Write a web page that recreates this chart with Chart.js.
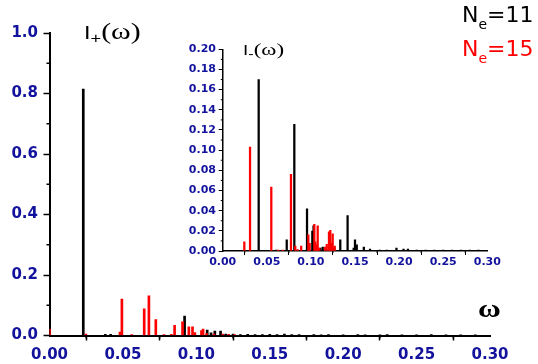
<!DOCTYPE html>
<html>
<head>
<meta charset="utf-8">
<script src="https://cdn.jsdelivr.net/npm/chart.js@4.4.0/dist/chart.umd.min.js"></script>
<style>
body { margin: 0; background: #fff; }
#wrap { position: relative; width: 538px; height: 364px; overflow: hidden; background: #fff; }
canvas { position: absolute; }
#mainChart { left: 0; top: 0; }
#insetChart { left: 170px; top: 30px; }
.lbl { position: absolute; white-space: nowrap; line-height: 1; color: #000; transform-origin: left top; }
.sans { font-family: "Liberation Sans", Arial, sans-serif; }
.serif { font-family: "Liberation Serif", "Times New Roman", serif; }
.dv { font-family: "DejaVu Sans", sans-serif; }
</style>
</head>
<body>
<div id="wrap">
  <canvas id="mainChart" width="538" height="364"></canvas>
  <canvas id="insetChart" width="340" height="245"></canvas>

  <div class="lbl" style="left:84px; top:20px; transform:scaleX(1.3);"><span class="sans" style="font-size:18px">I</span><span class="sans" style="font-size:14px; vertical-align:-4px">+</span><span class="serif" style="font-size:23px">(ω)</span></div>
  <div class="lbl" style="left:243px; top:41px; transform:scaleX(1.35);"><span class="sans" style="font-size:14px">I</span><span class="sans" style="font-size:12px; vertical-align:-3px">-</span><span class="serif" style="font-size:17px">(ω)</span></div>
  <div class="lbl serif" style="left:478px; top:296px; font-size:26px; font-weight:bold; transform:scaleX(1.2);">ω</div>

  <div class="lbl dv" style="left:462px; top:4px; font-size:22px;">N<span style="font-size:14px; vertical-align:-7px">e</span>=11</div>
  <div class="lbl dv" style="left:462px; top:38px; font-size:22px; color:#ff0000;">N<span style="font-size:14px; vertical-align:-7px">e</span>=15</div>
</div>

<script>
// I+(w) spectrum, N_e = 11 (black)
const plusOmega11 = [0.023, 0.038, 0.0416, 0.092, 0.1074, 0.110, 0.1126, 0.1165, 0.120, 0.125, 0.130, 0.135, 0.140, 0.145, 0.150, 0.155, 0.160, 0.165, 0.170, 0.180, 0.185, 0.190, 0.200, 0.210, 0.215, 0.225, 0.230, 0.240, 0.250, 0.260, 0.270, 0.280, 0.290];
const plusI11     = [0.815, 0.004, 0.004, 0.064, 0.018, 0.009, 0.015, 0.015, 0.005, 0.005, 0.003, 0.004, 0.003, 0.003, 0.004, 0.003, 0.005, 0.003, 0.003, 0.003, 0.002, 0.003, 0.002, 0.003, 0.002, 0.002, 0.003, 0.002, 0.002, 0.003, 0.002, 0.002, 0.002];

// I+(w) spectrum, N_e = 15 (red)
const plusOmega15 = [0.0, 0.0248, 0.048, 0.0493, 0.056, 0.0645, 0.0677, 0.0724, 0.078, 0.083, 0.0852, 0.0906, 0.0949, 0.0974, 0.099, 0.1035, 0.1046, 0.107, 0.112, 0.118, 0.122, 0.126];
const plusI15     = [0.021, 0.005, 0.011, 0.120, 0.003, 0.088, 0.131, 0.053, 0.003, 0.004, 0.034, 0.045, 0.029, 0.029, 0.010, 0.016, 0.021, 0.006, 0.005, 0.005, 0.004, 0.003];

// I-(w) spectrum (inset), N_e = 11 (black)
const minusOmega11 = [0.0408, 0.0603, 0.0726, 0.0812, 0.0956, 0.1016, 0.103, 0.1107, 0.1134, 0.1265, 0.1333, 0.1416, 0.1485, 0.150, 0.152, 0.160, 0.167, 0.178, 0.186, 0.197, 0.205, 0.210, 0.220, 0.230, 0.240, 0.250, 0.260, 0.270, 0.280, 0.290];
const minusI11     = [0.170, 0.001, 0.011, 0.1257, 0.0417, 0.0198, 0.025, 0.003, 0.004, 0.003, 0.011, 0.035, 0.003, 0.011, 0.006, 0.004, 0.002, 0.001, 0.001, 0.003, 0.002, 0.002, 0.001, 0.001, 0.001, 0.001, 0.001, 0.001, 0.001, 0.001];

// I-(w) spectrum (inset), N_e = 15 (red)
const minusOmega15 = [0.0245, 0.031, 0.0551, 0.063, 0.068, 0.0774, 0.0823, 0.085, 0.089, 0.0971, 0.0986, 0.1039, 0.105, 0.1066, 0.1077, 0.1095, 0.116, 0.118, 0.1205, 0.122, 0.1236, 0.1247, 0.127];
const minusI15     = [0.0092, 0.103, 0.0635, 0.001, 0.001, 0.076, 0.005, 0.0015, 0.005, 0.016, 0.0076, 0.0265, 0.0092, 0.006, 0.025, 0.003, 0.004, 0.0066, 0.019, 0.0205, 0.0076, 0.017, 0.005];

// axis ticks
const mainXTicks  = [0, 0.05, 0.10, 0.15, 0.20, 0.25, 0.30];
const mainXMinor  = [0.025, 0.075, 0.125, 0.175, 0.225, 0.275];
const mainYTicks  = [0, 0.2, 0.4, 0.6, 0.8, 1.0];
const mainYMinor  = [0.1, 0.3, 0.5, 0.7, 0.9];
const insetXTicks = [0, 0.05, 0.10, 0.15, 0.20, 0.25, 0.30];
const insetXMinor = [0.025, 0.075, 0.125, 0.175, 0.225, 0.275];
const insetYTicks = [0, 0.02, 0.04, 0.06, 0.08, 0.10, 0.12, 0.14, 0.16, 0.18, 0.20];
const insetYMinor = [0.01, 0.03, 0.05, 0.07, 0.09, 0.11, 0.13, 0.15, 0.17, 0.19];

const tickBlue = "#12129c";

function pts(xs, ys) {
  return xs.map((x, i) => ({ x: x, y: ys[i] }));
}

// short minor ticks, drawn on the outer side of both axes
const minorTicks = {
  id: "minorTicks",
  afterDraw(chart, args, opts) {
    const ctx = chart.ctx;
    const xs = chart.scales.x, ys = chart.scales.y;
    ctx.save();
    ctx.strokeStyle = "#000";
    ctx.lineWidth = opts.width;
    opts.x.forEach(v => {
      const px = xs.getPixelForValue(v);
      ctx.beginPath();
      ctx.moveTo(px, ys.bottom);
      ctx.lineTo(px, ys.bottom + opts.len);
      ctx.stroke();
    });
    opts.y.forEach(v => {
      const py = ys.getPixelForValue(v);
      ctx.beginPath();
      ctx.moveTo(xs.left, py);
      ctx.lineTo(xs.left - opts.len, py);
      ctx.stroke();
    });
    ctx.restore();
  }
};

function makeChart(id, g) {
  return new Chart(document.getElementById(id), {
    type: "bar",
    data: {
      datasets: [
        { label: "Ne=15", data: g.red, backgroundColor: "#ff0000", barThickness: g.bar },
        { label: "Ne=11", data: g.black, backgroundColor: "#000000", barThickness: g.bar }
      ]
    },
    options: {
      responsive: false,
      animation: false,
      devicePixelRatio: 1,
      grouped: false,
      layout: { padding: g.pad },
      plugins: {
        legend: { display: false },
        tooltip: { enabled: false },
        minorTicks: { x: g.xMinor, y: g.yMinor, len: g.minorLen, width: g.tickWidth }
      },
      scales: {
        x: {
          type: "linear",
          min: 0,
          max: 0.3,
          offset: false,
          afterBuildTicks: s => { s.ticks = g.xTicks.map(v => ({ value: v })); },
          afterFit: s => { s.height = g.xHeight; },
          grid: { drawOnChartArea: false, tickLength: g.xTickLen, tickWidth: g.tickWidth, tickColor: "#000" },
          border: { color: "#000", width: g.axisWidth },
          ticks: {
            autoSkip: false,
            maxRotation: 0,
            padding: g.xPad,
            color: tickBlue,
            font: { family: "DejaVu Sans", size: g.fontSize, weight: "bold" },
            callback: v => v.toFixed(2)
          }
        },
        y: {
          min: 0,
          max: g.yMax,
          afterBuildTicks: s => { s.ticks = g.yTicks.map(v => ({ value: v })); },
          afterFit: s => { s.width = g.yWidth; },
          grid: { drawOnChartArea: false, tickLength: g.yTickLen, tickWidth: g.tickWidth, tickColor: "#000" },
          border: { color: "#000", width: g.axisWidth },
          ticks: {
            autoSkip: false,
            padding: g.yPad,
            color: tickBlue,
            font: { family: "DejaVu Sans", size: g.fontSize, weight: "bold" },
            callback: v => v.toFixed(g.yDigits)
          }
        }
      }
    },
    plugins: [minorTicks]
  });
}

makeChart("mainChart", {
  red: pts(plusOmega15, plusI15),
  black: pts(plusOmega11, plusI11),
  bar: 2,
  pad: { left: 0, top: 33, right: 48, bottom: 0 },
  xTicks: mainXTicks, xMinor: mainXMinor,
  yTicks: mainYTicks, yMinor: mainYMinor,
  yMax: 1.0, yDigits: 1,
  xHeight: 28.5, yWidth: 49.5,
  xTickLen: 5, yTickLen: 6, minorLen: 3,
  tickWidth: 1.5, axisWidth: 2,
  xPad: 6, yPad: 5.5,
  fontSize: 15
});

makeChart("insetChart", {
  red: pts(minusOmega15, minusI15),
  black: pts(minusOmega11, minusI11),
  bar: 1.6,
  pad: { left: 0, top: 19.3, right: 22.7, bottom: 0 },
  xTicks: insetXTicks, xMinor: insetXMinor,
  yTicks: insetYTicks, yMinor: insetYMinor,
  yMax: 0.2, yDigits: 2,
  xHeight: 24, yWidth: 52.7,
  xTickLen: 4, yTickLen: 4, minorLen: 2,
  tickWidth: 1, axisWidth: 1.5,
  xPad: 1, yPad: 2.7,
  fontSize: 11
});
</script>
</body>
</html>
